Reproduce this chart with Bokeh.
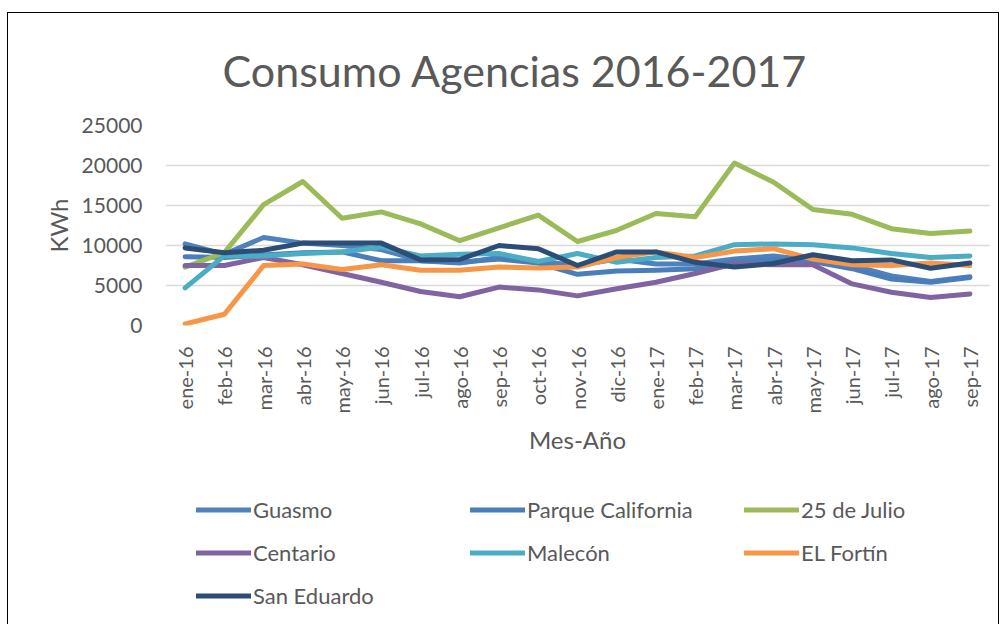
from bokeh.plotting import figure
from bokeh.layouts import column
from bokeh.models import Legend, LegendItem, Range1d, SingleIntervalTicker, Title
from bokeh.embed import file_html
from bokeh.resources import INLINE

months = ["ene-16", "feb-16", "mar-16", "abr-16", "may-16", "jun-16", "jul-16",
          "ago-16", "sep-16", "oct-16", "nov-16", "dic-16", "ene-17", "feb-17",
          "mar-17", "abr-17", "may-17", "jun-17", "jul-17", "ago-17", "sep-17"]

guasmo = [10200, 8900, 11000, 10300, 10000, 9500, 8100, 7800, 8500, 8000, 7500,
          8300, 7700, 7700, 8300, 8700, 8100, 7500, 6200, 5500, 6100]
parque_california = [8600, 8500, 8800, 9100, 9200, 8100, 8100, 7900, 8300, 7800, 6400,
                     6800, 6900, 7100, 8000, 8200, 8000, 7100, 5800, 5400, 6000]
julio_25 = [7300, 9100, 15100, 18000, 13400, 14200, 12700, 10600, 12200, 13800, 10500,
            11900, 14000, 13600, 20300, 17900, 14500, 13900, 12100, 11500, 11800]
centario = [7500, 7500, 8500, 7600, 6500, 5400, 4250, 3600, 4800, 4450, 3700,
            4600, 5400, 6500, 7700, 7600, 7600, 5200, 4150, 3500, 3950]
malecon = [4700, 8700, 8700, 9000, 9200, 9800, 8700, 8900, 9000, 8000, 9000,
           7900, 8500, 8700, 10100, 10200, 10100, 9700, 9000, 8500, 8700]
el_fortin = [200, 1400, 7500, 7700, 7000, 7600, 6900, 6900, 7300, 7200, 7300,
             8500, 9200, 8500, 9300, 9600, 8300, 7600, 7500, 7800, 7500]
san_eduardo = [9700, 9100, 9400, 10300, 10300, 10300, 8200, 8250, 10000, 9600, 7500,
               9200, 9200, 7900, 7300, 7750, 8850, 8100, 8200, 7150, 7800]

series = [
    ("Guasmo", guasmo, "#4F81BD"),
    ("Parque California", parque_california, "#4A7EBB"),
    ("25 de Julio", julio_25, "#9BBB59"),
    ("Centario", centario, "#8064A2"),
    ("Malecón", malecon, "#4BACC6"),
    ("EL Fortín", el_fortin, "#F79646"),
    ("San Eduardo", san_eduardo, "#2C4D75"),
]

FONT = "Lato"
GREY = "#595959"

# ---------------- main chart ----------------
p = figure(x_range=months, width=990, height=460, output_backend="svg",
           toolbar_location=None, min_border_left=157, min_border_right=9,
           min_border_top=112, min_border_bottom=148)
p.y_range = Range1d(0, 25000)
p.outline_line_color = None
p.background_fill_color = "white"
p.border_fill_color = "white"

title = Title(text="Consumo Agencias 2016-2017", align="left", offset=57,
              text_font=FONT, text_font_size="43px", text_font_style="normal",
              text_color=GREY, standoff=59)
p.add_layout(title, "above")

for name, vals, color in series:
    p.line(months, vals, line_color=color, line_width=5,
           line_cap="round", line_join="round")

p.xgrid.grid_line_color = None
p.ygrid.grid_line_color = "#D9D9D9"
p.ygrid.grid_line_width = 1.5
p.yaxis.ticker = SingleIntervalTicker(interval=5000)

for ax in (p.xaxis[0], p.yaxis[0]):
    ax.axis_line_color = None
    ax.major_tick_line_color = None
    ax.minor_tick_line_color = None
    ax.major_label_text_font = FONT
    ax.major_label_text_font_size = "20px"
    ax.major_label_text_color = GREY
    ax.axis_label_text_font = FONT
    ax.axis_label_text_font_size = "24px"
    ax.axis_label_text_font_style = "normal"
    ax.axis_label_text_color = GREY

p.yaxis.major_label_text_font_size = "21px"
p.yaxis.axis_label = "KWh"
p.yaxis.major_label_standoff = 17
p.yaxis.axis_label_standoff = 6
p.xaxis.axis_label = "Mes-Año"
p.xaxis.major_label_orientation = 1.5708
p.xaxis.major_label_standoff = 15
p.xaxis.axis_label_standoff = 8

# ---------------- legend strip ----------------
# the series are drawn again here only so the legend has real glyphs;
# the tiny y range keeps every line outside this strip's frame
lg = figure(x_range=months, width=990, height=151, output_backend="svg",
            toolbar_location=None, x_axis_type=None, y_axis_type=None,
            min_border=0, y_range=Range1d(-2, -1))
lg.outline_line_color = None
lg.xgrid.grid_line_color = None
lg.ygrid.grid_line_color = None
lg.border_fill_color = "white"

items = []
for name, vals, color in series:
    r = lg.line(months, vals, line_color=color, line_width=5, line_cap="round")
    items.append(LegendItem(label=name, renderers=[r]))

legend = Legend(items=items, ncols=3, orientation="horizontal",
                location=(31, 7), label_text_font=FONT,
                label_text_font_size="22px", label_text_color=GREY,
                glyph_width=55, glyph_height=43, label_standoff=2,
                label_width=217, spacing=0, padding=0, margin=0,
                label_height=43, border_line_color=None,
                background_fill_alpha=0)
lg.add_layout(legend, "center")

layout = column(p, lg, spacing=0,
                styles={"border": "1.5px solid #000000",
                        "border-bottom": "none",
                        "margin-left": "7px", "margin-top": "12px"})

open("out.html", "w").write(file_html(layout, INLINE))
